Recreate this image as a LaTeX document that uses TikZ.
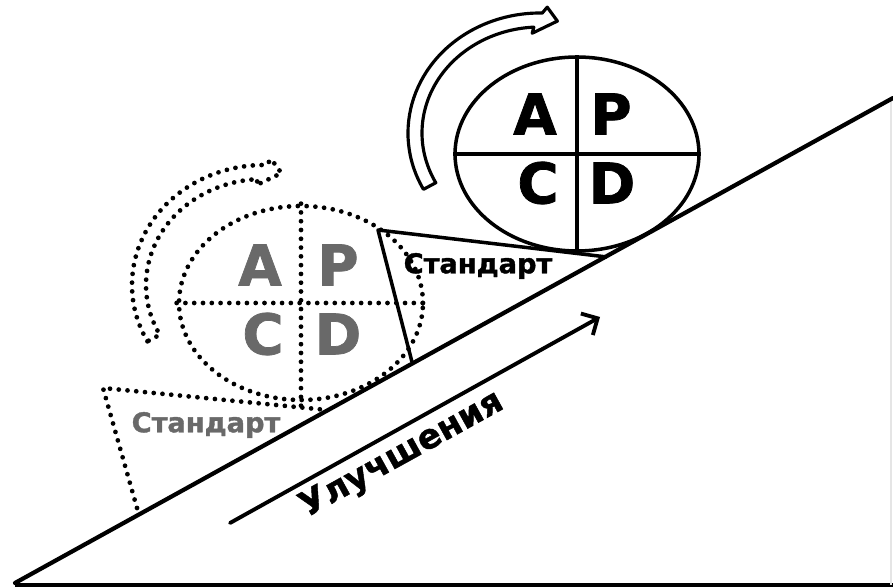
\documentclass[tikz,border=0pt]{standalone}
\usepackage{fontspec}
\setmainfont{DejaVu Sans}
\newfontfamily\heavyfont[FakeBold=1.3]{DejaVu Sans Bold}
\usepackage{tikz}
\usetikzlibrary{shapes.geometric, arrows.meta, calc}
\definecolor{cycleGray}{RGB}{105,105,105}
\tikzset{
  slopeline/.style={line width=2.4pt,line cap=round},
  solidline/.style={line width=2pt,line join=round},
  dotline/.style={line width=2.7pt,line cap=round,dash pattern=on 0pt off 5pt},
  ring/.style={ellipse,inner sep=0pt,minimum width=4.88cm,minimum height=3.88cm},
  letter/.style={inner sep=0pt,font=\fontsize{32}{32}\selectfont\heavyfont},
  stdlabel/.style={inner sep=0pt,font=\fontsize{15.5}{15.5}\selectfont\heavyfont},
  improvarr/.style={-{Straight Barb[length=7pt,width=14pt]},line width=2.2pt,line cap=round}
}
% hollow curved arrow round a PDCA ring: #1 centre, #2 style
\newcommand{\cyclearrow}[2]{%
  \draw[#2] ($(#1)+(208:132 and 120)$) arc[start angle=208,end angle=89,x radius=132,y radius=120]
    -- ($(#1)+(87:138 and 126)$) -- ($(#1)+(82:125 and 113)$)
    -- ($(#1)+(94:112 and 100)$) -- ($(#1)+(93:118 and 106)$)
    arc[start angle=93,end angle=208,x radius=118,y radius=106] -- cycle;}

\begin{document}
\begin{tikzpicture}[x=0.02cm,y=0.02cm]
  \useasboundingbox (0,0) rectangle (893,588);
  % frame and slope
  \draw[line width=1.8pt] (15,3) -- (893,3);
  \draw[gray!20,line width=0.6pt] (891,3) -- (891,488);
  \coordinate (slopeL) at (15,5);
  \coordinate (slopeR) at (893,490);
  \draw[slopeline] (slopeL) -- (slopeR);

  % old cycle (dotted)
  \node[ring,draw,dotline] (oldring) at (301,285) {};
  \draw[dotline] (oldring.north) -- ($(oldring.south)+(0,-5)$);
  \draw[dotline] (oldring.west) -- (oldring.east);
  \foreach \l/\dx/\dy in {A/-41/38,P/37/38,C/-38/-31,D/37/-31}
    \node[letter,text=cycleGray] (old\l) at ($(oldring)+(\dx,\dy)$) {\l};
  \coordinate (oldc) at (264,303);
  \cyclearrow{oldc}{dotline}
  \coordinate (oldstdA) at (103,200);
  \coordinate (oldstdB) at (137,80);
  \coordinate (oldstdC) at (327,178);
  \draw[dotline] (oldstdB) -- (oldstdA) -- (oldstdC);
  \node[stdlabel,text=cycleGray] (oldstd) at (206,163) {Стандарт};

  % new cycle (solid)
  \node[ring,draw,solidline] (newring) at (577,434) {};
  \draw[solidline] (newring.north) -- (newring.south);
  \draw[solidline] (newring.west) -- (newring.east);
  \foreach \l/\dx/\dy in {A/-42/40,P/34/40,C/-39/-29,D/35/-29}
    \node[letter] (new\l) at ($(newring)+(\dx,\dy)$) {\l};
  \coordinate (newc) at (540,455);
  \cyclearrow{newc}{solidline,line width=1.8pt,fill=white}
  \coordinate (newstdA) at (378,358);
  \coordinate (newstdB) at (412,226);
  \coordinate (newstdC) at (607,331);
  \draw[solidline] (newstdB) -- (newstdA) -- (newstdC);
  \node[stdlabel] (newstd) at (478,322) {Стандарт};

  % improvement arrow
  \coordinate (improvS) at (230,65);
  \coordinate (improvE) at (600,271);
  \draw[improvarr] (improvS) -- (improvE);
  \node[inner sep=0pt,rotate=29,font=\fontsize{19.5}{19.5}\selectfont\heavyfont] (improv) at (402,133) {Улучшения};
\end{tikzpicture}
\end{document}
